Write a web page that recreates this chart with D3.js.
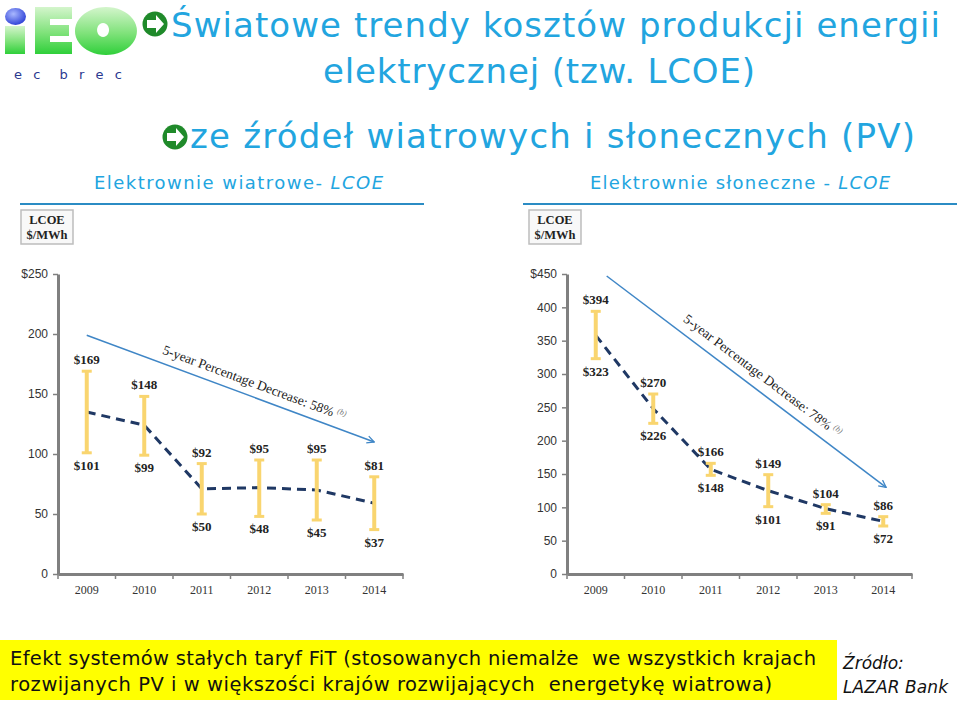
<!DOCTYPE html>
<html>
<head>
<meta charset="utf-8">
<script src="https://cdn.jsdelivr.net/npm/d3@7"></script>
<style>
  body { margin: 0; background: #fff; }
  svg { display: block; }
  text { white-space: pre; }
</style>
</head>
<body>
<div id="chart"></div>
<script>
const years = ["2009", "2010", "2011", "2012", "2013", "2014"];

const windHigh = [169, 148, 92, 95, 95, 81];
const windLow = [101, 99, 50, 48, 45, 37];
const windMid = [135, 124, 71, 72, 70, 59];
const windTicks = [0, 50, 100, 150, 200, 250];
// arrow ends as [year index, value]
const windArrow = [[0, 199], [5, 110]];

const solarHigh = [394, 270, 166, 149, 104, 86];
const solarLow = [323, 226, 148, 101, 91, 72];
const solarMid = [358, 248, 157, 125, 98, 79];
const solarTicks = [0, 50, 100, 150, 200, 250, 300, 350, 400, 450];
const solarArrow = [[0.19, 447], [5.05, 130]];

const titleLines = ["Światowe trendy kosztów produkcji energii", "elektrycznej (tzw. LCOE)"];
const subTitle = "ze źródeł wiatrowych i słonecznych (PV)";
const noteLines = [
  "Efekt systemów stałych taryf FiT (stosowanych niemalże  we wszystkich krajach",
  "rozwijanych PV i w większości krajów rozwijających  energetykę wiatrowa)"
];

const blue = "#22a5df";
const gothic = "'DejaVu Sans', sans-serif";
const serif = "'Liberation Serif', 'DejaVu Serif', serif";

const svg = d3.select("#chart")
  .append("svg")
  .attr("width", 960)
  .attr("height", 706);

const defs = svg.append("defs");
const grad = defs.append("linearGradient")
  .attr("id", "logoGreen")
  .attr("x1", 0).attr("y1", 0).attr("x2", 0).attr("y2", 1);
grad.append("stop").attr("offset", "0%").attr("stop-color", "#d4f5cc");
grad.append("stop").attr("offset", "55%").attr("stop-color", "#7fe27a");
grad.append("stop").attr("offset", "100%").attr("stop-color", "#2fcf3a");
const dotGrad = defs.append("radialGradient")
  .attr("id", "logoBlue")
  .attr("cx", "40%").attr("cy", "35%").attr("r", "65%");
dotGrad.append("stop").attr("offset", "0%").attr("stop-color", "#a9b8ff");
dotGrad.append("stop").attr("offset", "100%").attr("stop-color", "#3346d8");

defs.append("marker")
  .attr("id", "arrowHead")
  .attr("viewBox", "0 0 10 10")
  .attr("refX", 9).attr("refY", 5)
  .attr("markerWidth", 9).attr("markerHeight", 9)
  .attr("markerUnits", "userSpaceOnUse")
  .attr("orient", "auto")
  .append("path")
  .attr("d", "M1,1 L9,5 L1,9")
  .attr("fill", "none")
  .attr("stroke", "#3f86c6")
  .attr("stroke-width", 1.4);

function fit(sel, w) {
  sel.attr("textLength", w).attr("lengthAdjust", "spacing");
}

// logo
const logo = svg.append("g");
logo.append("rect").attr("x", 5).attr("y", 26).attr("width", 20).attr("height", 28).attr("fill", "url(#logoGreen)");
logo.append("ellipse").attr("cx", 15.5).attr("cy", 16.5).attr("rx", 10.5).attr("ry", 8.5).attr("fill", "url(#logoBlue)");
logo.append("path")
  .attr("d", "M35,7 H72 V19 H50 V25 H69 V36 H50 V42 H72 V54 H35 Z")
  .attr("fill", "url(#logoGreen)");
logo.append("path")
  .attr("d", "M106,7 A31,24 0 1,1 105.9,7 Z M103,23 A6,7 0 1,0 103.1,23 Z")
  .attr("fill-rule", "evenodd")
  .attr("fill", "url(#logoGreen)");
logo.append("text")
  .attr("x", 14).attr("y", 79)
  .attr("font-family", "'DejaVu Sans', sans-serif")
  .attr("font-size", 13)
  .attr("fill", "#2b3990")
  .text("e c  b r e c")
  .call(fit, 108);

// green bullet arrows
function bullet(cx, cy) {
  const g = svg.append("g").attr("transform", `translate(${cx},${cy})`);
  g.append("circle").attr("r", 12.5).attr("fill", "#1f8a2a");
  g.append("path")
    .attr("d", "M-8,-4 H1 V-9 L9,0 L1,9 V4 H-8 Z")
    .attr("fill", "#fff");
}
bullet(155, 24);
bullet(175, 137);

svg.append("text")
  .attr("x", 171).attr("y", 37)
  .attr("font-family", gothic).attr("font-size", 34)
  .attr("fill", blue)
  .text(titleLines[0])
  .call(fit, 769);
svg.append("text")
  .attr("x", 323).attr("y", 83)
  .attr("font-family", gothic).attr("font-size", 34)
  .attr("fill", blue)
  .text(titleLines[1])
  .call(fit, 432);
svg.append("text")
  .attr("x", 190).attr("y", 148)
  .attr("font-family", gothic).attr("font-size", 34)
  .attr("fill", blue)
  .text(subTitle)
  .call(fit, 725);

function header(x, w, label) {
  const t = svg.append("text")
    .attr("x", x).attr("y", 189)
    .attr("font-family", gothic).attr("font-size", 18)
    .attr("fill", blue);
  t.append("tspan").text(label);
  t.append("tspan").attr("font-style", "italic").text("LCOE");
  t.call(fit, w);
}
header(94, 289, "Elektrownie wiatrowe- ");
header(590, 300, "Elektrownie słoneczne - ");

function drawPanel(cfg) {
  const g = svg.append("g");

  g.append("line")
    .attr("x1", cfg.lineX[0]).attr("x2", cfg.lineX[1])
    .attr("y1", 204).attr("y2", 204)
    .attr("stroke", "#2b8cc4").attr("stroke-width", 2);

  // LCOE unit box
  g.append("rect")
    .attr("x", cfg.boxX).attr("y", 210)
    .attr("width", 52).attr("height", 34)
    .attr("fill", "#f8f8f8").attr("stroke", "#bdbdbd").attr("stroke-width", 1.5);
  g.append("text")
    .attr("x", cfg.boxX + 26).attr("y", 224)
    .attr("text-anchor", "middle")
    .attr("font-family", serif).attr("font-weight", "bold").attr("font-size", 12.5)
    .attr("fill", "#222")
    .text("LCOE");
  g.append("text")
    .attr("x", cfg.boxX + 26).attr("y", 239)
    .attr("text-anchor", "middle")
    .attr("font-family", serif).attr("font-weight", "bold").attr("font-size", 12.5)
    .attr("fill", "#222")
    .text("$/MWh");

  const x = d3.scaleBand().domain(years).range(cfg.xRange);
  const xi = d3.scaleLinear()
    .domain([0, years.length - 1])
    .range([cfg.xRange[0] + x.bandwidth() / 2, cfg.xRange[1] - x.bandwidth() / 2]);
  const y = d3.scaleLinear().domain([0, d3.max(cfg.ticks)]).range([574, 274]);
  const top = d3.max(cfg.ticks);

  const yAxis = g.append("g")
    .attr("transform", `translate(${cfg.xRange[0]},0)`)
    .call(d3.axisLeft(y)
      .tickValues(cfg.ticks)
      .tickSize(5)
      .tickSizeOuter(0)
      .tickPadding(5)
      .tickFormat(d => d === top ? "$" + d : d));
  yAxis.select(".domain").attr("stroke", "#808080").attr("stroke-width", 3);
  yAxis.selectAll(".tick line").attr("stroke", "#808080").attr("stroke-width", 1.5);
  yAxis.selectAll(".tick text")
    .attr("font-family", "'Liberation Sans', Arial, sans-serif")
    .attr("font-size", 12)
    .attr("fill", "#333");

  const xAxis = g.append("g")
    .attr("transform", "translate(0,574)")
    .call(d3.axisBottom(x).tickSize(0).tickPadding(11));
  xAxis.select(".domain").attr("stroke", "#808080").attr("stroke-width", 3);
  xAxis.selectAll(".tick text")
    .attr("font-family", serif)
    .attr("font-size", 12)
    .attr("fill", "#333");
  const edges = years.map(d => x(d)).concat([cfg.xRange[1]]);
  xAxis.selectAll(".edge")
    .data(edges)
    .enter()
    .append("line")
    .attr("x1", d => d).attr("x2", d => d)
    .attr("y1", 0).attr("y2", 5)
    .attr("stroke", "#808080").attr("stroke-width", 1.5);

  // trend arrow
  const a0 = [xi(cfg.arrow[0][0]), y(cfg.arrow[0][1])];
  const a1 = [xi(cfg.arrow[1][0]), y(cfg.arrow[1][1])];
  g.append("line")
    .attr("x1", a0[0]).attr("y1", a0[1])
    .attr("x2", a1[0]).attr("y2", a1[1])
    .attr("stroke", "#3f86c6").attr("stroke-width", 1.5)
    .attr("marker-end", "url(#arrowHead)");

  const ang = Math.atan2(a1[1] - a0[1], a1[0] - a0[0]);
  const px = a0[0] + 0.25 * (a1[0] - a0[0]) + Math.sin(ang) * cfg.textOff;
  const py = a0[1] + 0.25 * (a1[1] - a0[1]) - Math.cos(ang) * cfg.textOff;
  const note = g.append("text")
    .attr("transform", `translate(${px},${py}) rotate(${ang * 180 / Math.PI})`)
    .attr("font-family", serif).attr("font-size", 13.5)
    .attr("fill", "#222");
  note.append("tspan").text(cfg.note);
  note.append("tspan")
    .attr("dx", 3).attr("dy", -5)
    .attr("font-size", 8).attr("font-style", "italic").attr("fill", "#777")
    .text("(b)");

  // dashed midline
  g.append("path")
    .datum(cfg.mid)
    .attr("fill", "none")
    .attr("stroke", "#1f3864")
    .attr("stroke-width", 3)
    .attr("stroke-dasharray", "9,6")
    .attr("d", d3.line().x((d, i) => xi(i)).y(d => y(d)));

  // ranges
  const rows = years.map((yr, i) => ({ yr, hi: cfg.high[i], lo: cfg.low[i] }));
  const bar = g.selectAll(".range")
    .data(rows)
    .enter()
    .append("g")
    .attr("transform", d => `translate(${x(d.yr) + x.bandwidth() / 2},0)`);
  bar.append("line")
    .attr("y1", d => y(d.hi)).attr("y2", d => y(d.lo))
    .attr("stroke", "#f9d56f").attr("stroke-width", 4);
  bar.append("line")
    .attr("x1", -5).attr("x2", 5)
    .attr("y1", d => y(d.hi)).attr("y2", d => y(d.hi))
    .attr("stroke", "#f9d56f").attr("stroke-width", 3);
  bar.append("line")
    .attr("x1", -5).attr("x2", 5)
    .attr("y1", d => y(d.lo)).attr("y2", d => y(d.lo))
    .attr("stroke", "#f9d56f").attr("stroke-width", 3);
  bar.append("text")
    .attr("y", d => y(d.hi) - 7)
    .attr("text-anchor", "middle")
    .attr("font-family", serif).attr("font-weight", "bold").attr("font-size", 13)
    .attr("fill", "#222")
    .text(d => "$" + d.hi);
  bar.append("text")
    .attr("y", d => y(d.lo) + 17)
    .attr("text-anchor", "middle")
    .attr("font-family", serif).attr("font-weight", "bold").attr("font-size", 13)
    .attr("fill", "#222")
    .text(d => "$" + d.lo);
}

drawPanel({
  lineX: [20, 424], boxX: 21, xRange: [58, 403],
  ticks: windTicks, high: windHigh, low: windLow, mid: windMid,
  arrow: windArrow, textOff: 9,
  note: "5-year Percentage Decrease: 58%"
});

drawPanel({
  lineX: [523, 957], boxX: 529, xRange: [567, 912],
  ticks: solarTicks, high: solarHigh, low: solarLow, mid: solarMid,
  arrow: solarArrow, textOff: 10,
  note: "5-year Percentage Decrease: 78%"
});

// footer
svg.append("rect")
  .attr("x", 0).attr("y", 640)
  .attr("width", 837).attr("height", 60)
  .attr("fill", "#ffff00");
svg.append("text")
  .attr("x", 10).attr("y", 665)
  .attr("font-family", gothic).attr("font-size", 19.5)
  .attr("fill", "#111")
  .text(noteLines[0])
  .call(fit, 806);
svg.append("text")
  .attr("x", 10).attr("y", 691)
  .attr("font-family", gothic).attr("font-size", 19.5)
  .attr("fill", "#111")
  .text(noteLines[1])
  .call(fit, 762);
svg.append("text")
  .attr("x", 843).attr("y", 669)
  .attr("font-family", gothic).attr("font-size", 17).attr("font-style", "italic")
  .attr("fill", "#111")
  .text("Źródło:");
svg.append("text")
  .attr("x", 843).attr("y", 693)
  .attr("font-family", gothic).attr("font-size", 17).attr("font-style", "italic")
  .attr("fill", "#111")
  .text("LAZAR Bank")
  .call(fit, 105);
</script>
</body>
</html>
